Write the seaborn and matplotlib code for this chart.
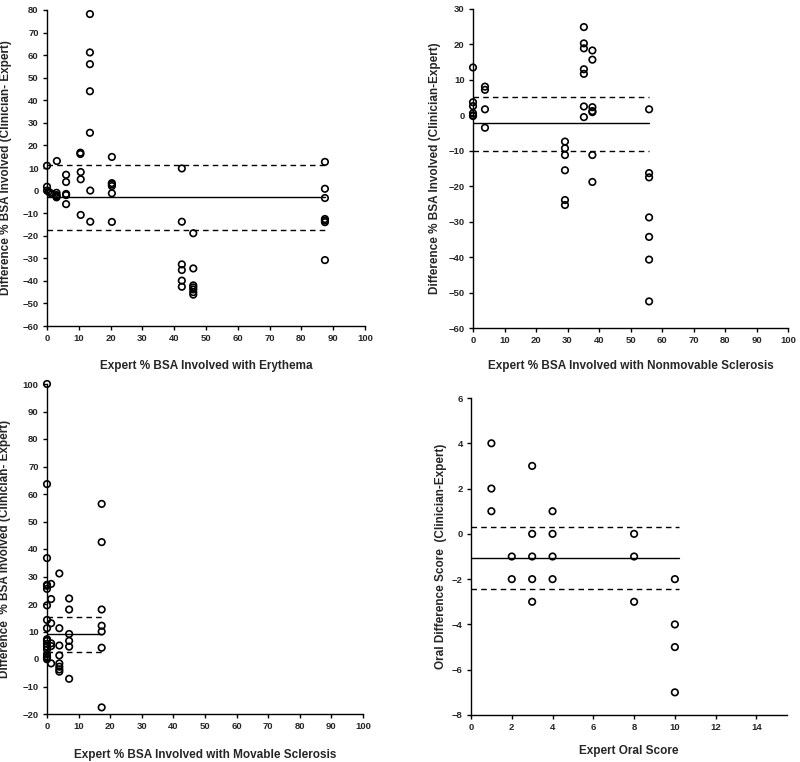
import matplotlib
matplotlib.use("Agg")
import matplotlib.pyplot as plt
import seaborn as sns

sns.set_style("white")
plt.rcParams['font.family'] = ['Liberation Sans', 'DejaVu Sans']
plt.rcParams['font.weight'] = 'bold'

# Panel 1 - erythema
ery_x = [0, 0, 0, 0.5, 1, 1.5, 3.1, 3, 3, 3, 3,
         6, 6, 6, 6, 6,
         10.5, 10.5, 10.6, 10.6, 10.6,
         13.5, 13.5, 13.5, 13.5, 13.5, 13.6, 13.6,
         20.4, 20.4, 20.4, 20.4, 20.4, 20.4,
         42.4, 42.4, 42.4, 42.4, 42.4, 42.4,
         46, 46, 46, 46, 46, 46, 46,
         87.4, 87.4, 87.4, 87.4, 87.4, 87.4, 87.4]
ery_y = [11, 1.7, 0, -0.5, -1, -1.5, 13.1, -1, -2, -3, -2.5,
         7, 3.8, -1.5, -2, -6,
         16.8, 16.2, 8.2, 5, -10.8,
         78.2, 61.2, 56, 44, 25.6, 0, -13.8,
         14.9, 3.3, 2.8, 2, -1.2, -13.9,
         9.8, -13.8, -32.7, -35.2, -39.9, -42.6,
         -18.9, -34.5, -42, -42.9, -43.8, -45, -46.1,
         12.7, 0.8, -3.3, -12.6, -13.3, -14, -30.8]
ery_lines = [-2.9, 11.3, -17.5]
ery_xmax = 87.4

# Panel 2 - nonmovable sclerosis
nms_x = [0, 0, 0, 0, 0, 0,
         3.8, 3.8, 3.8, 3.8,
         29.2, 29.2, 29.2, 29.2, 29.2, 29.2,
         35.2, 35.2, 35.2, 35.2, 35.2, 35.2, 35.2,
         37.9, 37.9, 37.9, 37.9, 37.9, 37.9, 37.9,
         55.9, 55.9, 55.9, 55.9, 55.9, 55.9, 55.9]
nms_y = [13.5, 3.7, 2.6, 0.6, 0, -0.2,
         8.1, 7.2, 1.7, -3.5,
         -7.4, -9.3, -11.2, -15.5, -23.9, -25.3,
         24.9, 20.3, 18.9, 13, 11.7, 2.5, -0.5,
         18.3, 15.7, 2.3, 1.2, 0.9, -11.2, -18.8,
         1.7, -16.3, -17.5, -28.8, -34.3, -40.7, -52.5]
nms_lines = [-2.3, 5.3, -10.0]
nms_xmax = 55.9

# Panel 3 - movable sclerosis
ms_x = [0, 0, 0, 0, 0, 0, 0, 0, 0, 0, 0, 0, 0, 0, 0, 0, 0, 0,
        1.3, 1.3, 1.3, 1.3, 1.3, 1.3,
        3.9, 3.9, 3.9, 3.9, 3.9, 3.9, 3.9, 3.9,
        7, 7, 7, 7, 7, 7,
        17.3, 17.3, 17.3, 17.3, 17.3, 17.3, 17.3]
ms_y = [100, 63.6, 36.7, 27, 26.6, 25.5, 19.5, 14.2, 11.2, 7.2, 6.6, 5.5, 4.5, 3.5, 1.8, 0.9, -0.1, 0.4,
        27.3, 21.8, 13, 5.7, 4.7, -1.6,
        31.1, 11.2, 4.9, 1.3, -1.6, -2.8, -3.8, -4.6,
        22, 18, 9.1, 6.6, 4.5, -7.2,
        56.4, 42.5, 18, 12.1, 10, 4.1, -17.6]
ms_lines = [9.0, 15.4, 2.4]
ms_xmax = 17.3

# Panel 4 - oral score
oral_x = [1, 1, 1, 2, 2, 3, 3, 3, 3, 3, 4, 4, 4, 4, 8, 8, 8, 10, 10, 10, 10]
oral_y = [4, 2, 1, -1, -2, 3, 0, -1, -2, -3, 1, 0, -1, -2, 0, -1, -3, -2, -4, -5, -7]
oral_lines = [-1.07, 0.31, -2.44]
oral_xmax = 10.2

W, H = 800, 762
fig = plt.figure(figsize=(W / 100, H / 100), dpi=100)


def make_panel(rect_px, x, y, lines, xmax, xlim, ylim, xticks, yticks,
               xlabel, ylabel, xlab_off, ylab_off):
    left, top, right, bottom = rect_px
    ax = fig.add_axes([left / W, 1 - bottom / H, (right - left) / W, (bottom - top) / H])
    sns.scatterplot(x=x, y=y, ax=ax, marker='o', s=22, fc='none', ec='black',
                    linewidth=1.2, zorder=3, clip_on=False)
    mean, upper, lower = lines
    ax.plot([0, xmax], [mean, mean], color='black', lw=1.0, zorder=2)
    ax.plot([0, xmax], [upper, upper], color='black', lw=1.0, ls=(0, (4, 3)), zorder=2)
    ax.plot([0, xmax], [lower, lower], color='black', lw=1.0, ls=(0, (4, 3)), zorder=2)
    ax.set_xlim(*xlim)
    ax.set_ylim(*ylim)
    ax.set_xticks(xticks)
    ax.set_yticks(yticks)
    for s in ['top', 'right']:
        ax.spines[s].set_visible(False)
    for s in ['left', 'bottom']:
        ax.spines[s].set_color('black')
        ax.spines[s].set_linewidth(1.0)
    ax.tick_params(direction='out', length=3, width=1, color='black',
                   labelsize=6.8, pad=3, bottom=True, left=True)
    for lab in ax.get_xticklabels() + ax.get_yticklabels():
        lab.set_fontweight('bold')
    ax.set_xlabel(xlabel, fontsize=8.5, fontweight='bold')
    ax.set_ylabel(ylabel, fontsize=8.5, fontweight='bold')
    ax.xaxis.set_label_coords(0.5, -xlab_off / (bottom - top))
    ax.yaxis.set_label_coords(-ylab_off / (right - left), 0.5)
    return ax


make_panel((47, 10, 365, 326), ery_x, ery_y, ery_lines, ery_xmax,
           (0, 100), (-60, 80), range(0, 101, 10), range(-60, 81, 10),
           'Expert % BSA Involved with Erythema',
           'Difference % BSA Involved (Clinician- Expert)', 34, 35)

make_panel((473, 9, 788, 328), nms_x, nms_y, nms_lines, nms_xmax,
           (0, 100), (-60, 30), range(0, 101, 10), range(-60, 31, 10),
           'Expert % BSA Involved with Nonmovable Sclerosis',
           'Difference % BSA Involved (Clinician-Expert)', 32, 32)

make_panel((47, 384, 363, 714), ms_x, ms_y, ms_lines, ms_xmax,
           (0, 100), (-20, 100), range(0, 101, 10), range(-20, 101, 10),
           'Expert % BSA Involved with Movable Sclerosis',
           'Difference  % BSA Involved (Clinician- Expert)', 35, 36)

make_panel((471, 398, 787, 715), oral_x, oral_y, oral_lines, oral_xmax,
           (0, 15.5), (-8, 6), range(0, 15, 2), range(-8, 7, 2),
           'Expert Oral Score',
           'Oral Difference Score  (Clinician-Expert)', 30, 24)

fig.savefig('out.png', dpi=100)
